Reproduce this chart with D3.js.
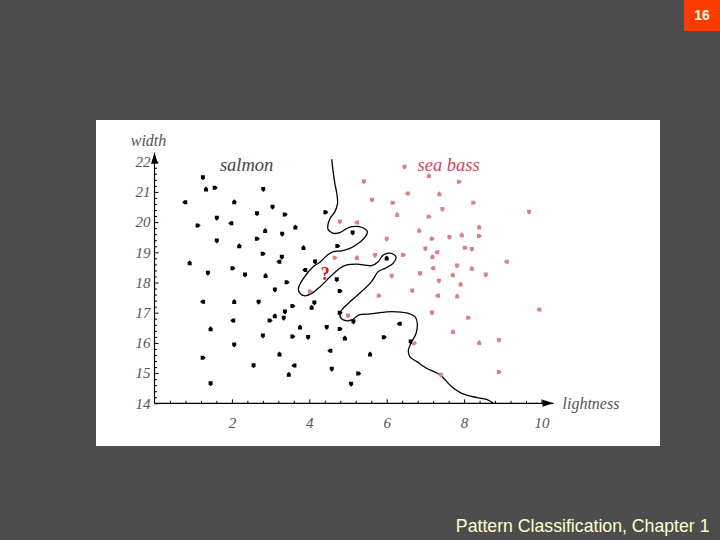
<!DOCTYPE html>
<html>
<head>
<meta charset="utf-8">
<script src="https://cdn.jsdelivr.net/npm/d3@7"></script>
<style>
  html, body { margin: 0; padding: 0; background: #4d4d4d; }
  svg { display: block; }
</style>
</head>
<body>
<svg id="chart" width="720" height="540"></svg>
<script>
// ---------- data ----------
const salmonX = [1.25,1.33,1.56,2.81,0.79,2.06,3.05,3.37,2.65,3.64,1.12,1.61,1.98,2.86,3.30,2.65,1.61,2.19,2.80,3.29,3.22,0.91,1.38,2.02,2.34,2.87,3.42,3.11,1.25,2.06,2.69,3.57,3.37,3.11,2.98,3.34,2.03,1.45,2.80,3.57,2.06,3.23,1.25,2.56,3.61,3.47,1.45,
  4.42,5.12,3.85,4.73,4.15,3.89,6.00,4.71,4.79,4.13,4.06,4.79,5.14,6.33,3.76,4.45,4.79,3.97,4.92,5.93,6.62,4.54,5.57,4.58,5.27,5.08];
const salmonY = [21.48,21.09,21.14,21.09,20.66,20.66,20.50,20.25,20.29,19.83,19.89,20.14,19.96,19.71,19.61,19.45,19.38,19.21,18.95,18.85,18.69,18.64,18.32,18.47,18.26,18.22,18.01,17.76,17.36,17.36,17.36,17.22,17.03,16.89,16.74,16.83,16.74,16.46,16.24,16.21,15.94,15.62,15.51,15.25,15.25,14.95,14.66,
  20.33,19.65,19.15,19.21,18.69,18.41,18.80,18.10,17.72,17.33,17.17,17.00,16.70,16.63,16.52,16.52,16.46,16.19,16.15,16.19,16.04,15.74,15.62,15.14,14.99,14.64];

const seaBassX = [6.46,7.09,7.87,5.41,6.54,7.36,5.62,6.16,7.44,6.27,7.09,4.79,5.23,6.84,6.00,7.17,7.62,7.94,8.02,7.00,7.30,7.18,7.82,6.43,5.70,5.23,4.66,6.86,7.20,7.71,6.13,8.24,9.68,8.39,8.39,8.20,9.10,8.20,8.56,4.02,7.35,7.91,5.80,6.66,7.32,7.82,7.17,8.11,5.00,7.71,6.71,7.40,9.94,8.39,8.90,8.90];
const seaBassY = [21.83,21.53,21.34,21.35,20.95,20.93,20.73,20.64,20.43,20.24,20.18,20.01,19.99,19.72,19.44,19.45,19.50,19.57,19.15,19.12,19.00,18.85,18.56,18.91,18.90,18.82,18.82,18.30,18.47,18.25,18.22,20.64,20.34,19.83,19.54,19.10,18.69,18.46,18.26,17.70,18.05,17.94,17.56,17.73,17.56,17.54,17.00,16.83,16.90,16.37,15.99,14.94,17.11,16.00,16.09,15.04];

// decision boundary (lightness, width)
const boundaryX = [4.58,4.61,4.66,4.71,4.73,4.66,4.54,4.48,4.49,4.62,4.79,4.97,5.10,5.35,5.50,5.44,5.27,5.05,4.84,4.62,4.47,4.28,4.10,3.85,3.72,3.76,3.89,4.06,4.28,4.54,4.79,4.97,5.23,5.61,5.78,5.91,6.09,6.24,6.17,5.96,5.78,5.61,5.35,5.05,4.84,4.79,4.88,5.10,5.27,5.57,6.00,6.26,6.56,6.73,6.79,6.76,6.65,6.56,6.60,6.78,7.03,7.38,7.68,7.94,8.33,8.58,8.75];
const boundaryY = [22.08,21.73,21.28,20.95,20.62,20.34,20.13,19.90,19.74,19.63,19.65,19.79,19.85,19.83,19.68,19.50,19.30,19.13,19.05,19.02,18.91,18.68,18.52,18.14,17.81,17.64,17.56,17.64,17.86,18.19,18.47,18.58,18.61,18.56,18.69,18.91,18.97,18.85,18.64,18.47,18.36,18.03,17.70,17.36,17.09,16.92,16.76,16.76,16.92,16.96,17.03,17.03,16.98,16.87,16.65,16.32,16.04,15.76,15.54,15.38,15.16,14.94,14.55,14.33,14.19,14.13,14.01];

const queryPoint = [4.41, 18.08];

const xTicks = [2, 4, 6, 8, 10];
const yTicks = [14, 15, 16, 17, 18, 19, 20, 21, 22];
const xLabel = "lightness";
const yLabel = "width";
const classNames = ["salmon", "sea bass"];
const slideNumber = "16";
const footer = "Pattern Classification, Chapter 1";

// ---------- drawing ----------
const svg = d3.select("#chart");
svg.append("rect").attr("width", 720).attr("height", 540).attr("fill", "#4d4d4d");

// slide number box
svg.append("rect").attr("x", 684).attr("y", 0).attr("width", 36).attr("height", 31).attr("fill", "#ff3c00");
svg.append("text").attr("x", 702).attr("y", 20).attr("text-anchor", "middle")
  .attr("font-family", "Liberation Sans, Arial, sans-serif").attr("font-weight", "bold")
  .attr("font-size", 14).attr("fill", "#fff8e0").text(slideNumber);

// footer
svg.append("text").attr("x", 709.5).attr("y", 531.5).attr("text-anchor", "end")
  .attr("font-family", "Liberation Sans, Arial, sans-serif")
  .attr("font-size", 17.7).attr("fill", "#ffffd0").text(footer);

// white panel
svg.append("rect").attr("x", 96).attr("y", 120).attr("width", 564).attr("height", 326).attr("fill", "#ffffff");

const x = d3.scaleLinear().domain([0, 10]).range([154.5, 541.5]);
const y = d3.scaleLinear().domain([14, 22]).range([403.3, 161.7]);

const serif = "Liberation Serif, Times New Roman, serif";
const labelGrey = "#555";
const g = svg.append("g");

// minor ticks
const xMinor = d3.range(0, 10.01, 0.4).filter(v => Math.abs(v / 2 - Math.round(v / 2)) > 1e-6);
const yMinor = d3.range(14, 22.01, 0.2).filter(v => Math.abs(v - Math.round(v)) > 1e-6);

const xAxisMinor = g.append("g").attr("transform", `translate(0,${y(14)})`)
  .call(d3.axisBottom(x).tickValues(xMinor).tickSize(-2.5).tickSizeOuter(0).tickFormat(""));
const xAxis = g.append("g").attr("transform", `translate(0,${y(14)})`)
  .call(d3.axisBottom(x).tickValues(xTicks).tickSize(-4).tickSizeOuter(0).tickPadding(14).tickFormat(d3.format("d")));
const yAxisMinor = g.append("g").attr("transform", `translate(${x(0)},0)`)
  .call(d3.axisLeft(y).tickValues(yMinor).tickSize(-2.5).tickSizeOuter(0).tickFormat(""));
const yAxis = g.append("g").attr("transform", `translate(${x(0)},0)`)
  .call(d3.axisLeft(y).tickValues(yTicks).tickSize(-4).tickSizeOuter(0).tickPadding(4).tickFormat(d3.format("d")));

[xAxisMinor, xAxis, yAxisMinor, yAxis].forEach(a => {
  a.select(".domain").remove();
  a.selectAll(".tick line").attr("stroke", "#000").attr("stroke-width", 1);
  a.selectAll(".tick text").attr("font-family", serif).attr("font-style", "italic")
    .attr("font-size", 15).attr("fill", labelGrey);
});

// axis lines with arrows
const x0 = x(0), yb = y(14);
const xEnd = x(10) + 12, yEnd = y(22) - 9;
g.append("line").attr("x1", x0).attr("y1", yb).attr("x2", xEnd).attr("y2", yb)
  .attr("stroke", "#000").attr("stroke-width", 1.2);
g.append("line").attr("x1", x0).attr("y1", yb).attr("x2", x0).attr("y2", yEnd)
  .attr("stroke", "#000").attr("stroke-width", 1.2);
g.append("path").attr("d", `M${xEnd},${yb} L${xEnd - 11},${yb - 3.5} L${xEnd - 11},${yb + 3.5} Z`).attr("fill", "#000");
g.append("path").attr("d", `M${x0},${yEnd} L${x0 - 3.5},${yEnd + 11} L${x0 + 3.5},${yEnd + 11} Z`).attr("fill", "#000");

// axis labels
g.append("text").attr("x", xEnd + 9).attr("y", yb + 6).attr("font-family", serif).attr("font-style", "italic")
  .attr("font-size", 16).attr("fill", labelGrey).text(xLabel);
g.append("text").attr("x", x0 - 6).attr("y", yEnd - 7).attr("text-anchor", "middle").attr("font-family", serif)
  .attr("font-style", "italic").attr("font-size", 16).attr("fill", labelGrey).text(yLabel);

// class labels
g.append("text").attr("x", x(2.38)).attr("y", y(21.7)).attr("text-anchor", "middle")
  .attr("font-family", serif).attr("font-style", "italic").attr("font-size", 18.5).attr("fill", "#444")
  .text(classNames[0]);
g.append("text").attr("x", x(7.6)).attr("y", y(21.7)).attr("text-anchor", "middle")
  .attr("font-family", serif).attr("font-style", "italic").attr("font-size", 18.5).attr("fill", "#d04658")
  .text(classNames[1]);

// decision boundary
const boundary = boundaryX.map((v, i) => [v, boundaryY[i]]);
g.append("path").datum(boundary)
  .attr("d", d3.line().x(d => x(d[0])).y(d => y(d[1])).curve(d3.curveCatmullRom.alpha(0.5)))
  .attr("fill", "none").attr("stroke", "#000").attr("stroke-width", 1.3);

// markers: small arrow-like glyphs
const rot = [90, 270, 0, 90, 180, 270, 90, 0];
const glyph = "M-2.2,-2 L0.8,-2 L2.8,0 L0.8,2 L-2.2,2 Z";
function drawPts(xs, ys, color) {
  g.append("g").selectAll("path").data(xs.map((v, i) => [v, ys[i], i])).join("path")
    .attr("d", glyph)
    .attr("transform", d => `translate(${x(d[0])},${y(d[1])}) rotate(${rot[d[2] % rot.length]})`)
    .attr("fill", color);
}
drawPts(salmonX, salmonY, "#000");
drawPts(seaBassX, seaBassY, "#dc7f89");

// query point
g.append("text").attr("x", x(queryPoint[0])).attr("y", y(queryPoint[1])).attr("text-anchor", "middle")
  .attr("font-family", serif).attr("font-weight", "bold").attr("font-size", 18).attr("fill", "#e81010").text("?");
</script>
</body>
</html>
